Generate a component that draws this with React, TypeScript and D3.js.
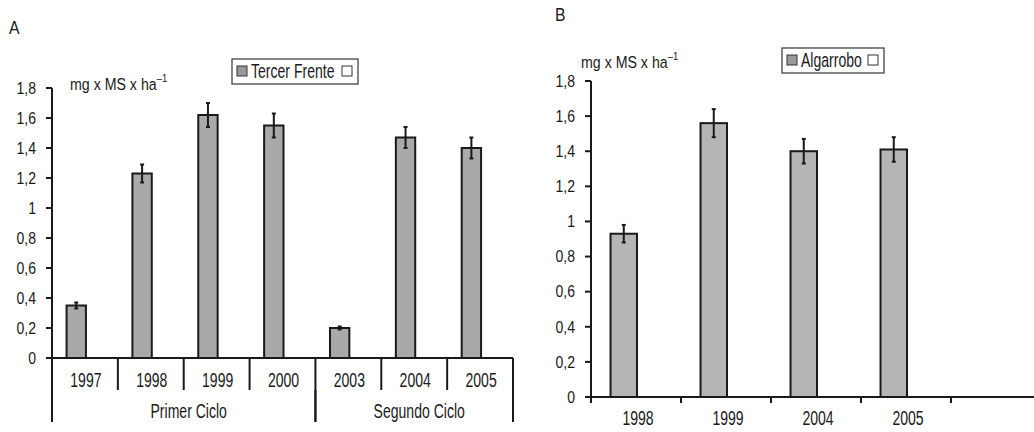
import * as d3 from 'd3';
import type { ReactNode } from 'react';

// Panel A – Tercer Frente
const yearsA = ['1997', '1998', '1999', '2000', '2003', '2004', '2005'];
const valuesA = [0.35, 1.23, 1.62, 1.55, 0.2, 1.47, 1.4];
const errorsA = [0.02, 0.06, 0.08, 0.08, 0.01, 0.07, 0.07];
const cyclesA = [
  { label: 'Primer Ciclo', from: '1997', to: '2000' },
  { label: 'Segundo Ciclo', from: '2003', to: '2005' },
];

// Panel B – Algarrobo
const yearsB = ['1998', '1999', '2004', '2005', ''];
const valuesB = [0.93, 1.56, 1.4, 1.41, null];
const errorsB = [0.05, 0.08, 0.07, 0.07, null];

const seriesKeys = ['main', 'empty'];
const yTickValues = [0, 0.2, 0.4, 0.6, 0.8, 1, 1.2, 1.4, 1.6, 1.8];
const fmt = (v: number) => d3.format('.1~f')(v).replace('.', ',');

const FONT = '"Liberation Sans", Arial, sans-serif';
const INK = '#1a1a1a';
const BAR_A = '#a9a9a9';
const BAR_B = '#b5b5b5';

// text drawn horizontally squeezed, to get the condensed look of the original typeface
function T({ x, y, size = 19.5, sx = 0.72, anchor = 'start', children }: {
  x: number; y: number; size?: number; sx?: number; anchor?: string; children: ReactNode;
}) {
  return (
    <text transform={`translate(${x},${y}) scale(${sx},1)`} dy="0.35em"
      textAnchor={anchor} fontSize={size} fill={INK}>{children}</text>
  );
}

function YAxis({ y, x0 }: { y: d3.ScaleLinear<number, number>; x0: number }) {
  return (
    <g>
      <line x1={x0} x2={x0} y1={y(0)} y2={y(1.8)} stroke={INK} strokeWidth={2} />
      {yTickValues.map(t => (
        <g key={t}>
          <line x1={x0 - 6} x2={x0} y1={y(t)} y2={y(t)} stroke={INK} strokeWidth={2} />
          <T x={x0 - 16} y={y(t)} size={16.5} sx={0.85} anchor="end">{fmt(t)}</T>
        </g>
      ))}
    </g>
  );
}

function UnitLabel({ x, y }: { x: number; y: number }) {
  return (
    <T x={x} y={y} size={16.5} sx={0.86}>
      mg x MS x ha<tspan dy={-8} fontSize={11}>–1</tspan>
    </T>
  );
}

function Legend({ x, y, w, label }: { x: number; y: number; w: number; label: string }) {
  return (
    <g>
      <rect x={x} y={y} width={w} height={25} fill="#fff" stroke="#444" strokeWidth={1.3} />
      <rect x={x + 5} y={y + 7} width={10} height={10} fill="#999" stroke="#333" strokeWidth={1} />
      <T x={x + 19} y={y + 12.5}>{label}</T>
      <rect x={x + w - 16} y={y + 7} width={10} height={10} fill="#fff" stroke="#333" strokeWidth={1} />
    </g>
  );
}

function Bars({ cats, values, errors, x, y, fill }: {
  cats: string[]; values: (number | null)[]; errors: (number | null)[];
  x: d3.ScaleBand<string>; y: d3.ScaleLinear<number, number>; fill: string;
}) {
  const x1 = d3.scaleBand<string>().domain(seriesKeys).range([0, x.bandwidth()]).paddingOuter(0.7).paddingInner(0);
  const bw = x1.bandwidth();
  return (
    <g>
      {cats.map((c, i) => {
        const v = values[i];
        const e = errors[i];
        if (v == null) return null;
        const bx = (x(c) ?? 0) + (x1('main') ?? 0) + 1;
        const cx = bx + bw / 2;
        return (
          <g key={c + i}>
            <rect x={bx} y={y(v)} width={bw} height={y(0) - y(v)} fill={fill} stroke={INK} strokeWidth={2} />
            {e != null && (
              <g stroke={INK} strokeWidth={2}>
                <line x1={cx} x2={cx} y1={y(v - e)} y2={y(v + e)} />
                <line x1={cx - 2} x2={cx + 2} y1={y(v - e)} y2={y(v - e)} />
                <line x1={cx - 2} x2={cx + 2} y1={y(v + e)} y2={y(v + e)} />
              </g>
            )}
          </g>
        );
      })}
    </g>
  );
}

export default function App() {
  // Panel A scales
  const yA = d3.scaleLinear().domain([0, 1.8]).range([358, 88]);
  const xA = d3.scaleBand<string>().domain(yearsA).range([52, 513]).padding(0);
  const edgesA = yearsA.map(c => xA(c) ?? 0).concat([513]);

  // Panel B scales
  const catsB = yearsB.map((c, i) => c || `_${i}`);
  const yB = d3.scaleLinear().domain([0, 1.8]).range([397, 81]);
  const xB = d3.scaleBand<string>().domain(catsB).range([591, 1041]).padding(0);

  return (
    <div style={{ position: 'absolute', left: 0, top: 0 }}>
      <svg width={1034} height={432} style={{ display: 'block', fontFamily: FONT }}>
        <rect width={1034} height={432} fill="#fff" />

        {/* Panel A */}
        <T x={9} y={28} size={17.5} sx={0.9}>A</T>
        <UnitLabel x={70} y={84} />
        <Legend x={232} y={59} w={126} label="Tercer Frente" />
        <Bars cats={yearsA} values={valuesA} errors={errorsA} x={xA} y={yA} fill={BAR_A} />
        <YAxis y={yA} x0={52} />
        <line x1={52} x2={513} y1={yA(0)} y2={yA(0)} stroke={INK} strokeWidth={2} />
        {edgesA.map((ex, i) => (
          <line key={i} x1={ex} x2={ex} y1={yA(0)} y2={390} stroke={INK} strokeWidth={2} />
        ))}
        {yearsA.map(c => (
          <T key={c} x={(xA(c) ?? 0) + xA.bandwidth() / 2 + 1} y={380} anchor="middle">{c}</T>
        ))}
        {cyclesA.map(g => {
          const x0 = xA(g.from) ?? 0;
          const x1 = (xA(g.to) ?? 0) + xA.bandwidth();
          return (
            <g key={g.label}>
              <line x1={x0} x2={x0} y1={390} y2={422} stroke={INK} strokeWidth={2} />
              <line x1={x1} x2={x1} y1={390} y2={422} stroke={INK} strokeWidth={2} />
              <T x={(x0 + x1) / 2 + 5} y={411} anchor="middle">{g.label}</T>
            </g>
          );
        })}

        {/* Panel B */}
        <T x={555} y={15} size={17.5} sx={0.9}>B</T>
        <UnitLabel x={581} y={62} />
        <Legend x={782} y={48} w={102} label="Algarrobo" />
        <Bars cats={catsB} values={valuesB} errors={errorsB} x={xB} y={yB} fill={BAR_B} />
        <YAxis y={yB} x0={591} />
        <line x1={591} x2={1034} y1={yB(0)} y2={yB(0)} stroke={INK} strokeWidth={2} />
        {catsB.map(c => (
          <line key={c} x1={xB(c) ?? 0} x2={xB(c) ?? 0} y1={yB(0)} y2={yB(0) + 6} stroke={INK} strokeWidth={2} />
        ))}
        {catsB.map((c, i) => (
          <T key={c} x={(xB(c) ?? 0) + xB.bandwidth() / 2 + 2} y={418} anchor="middle">{yearsB[i]}</T>
        ))}
      </svg>
    </div>
  );
}
